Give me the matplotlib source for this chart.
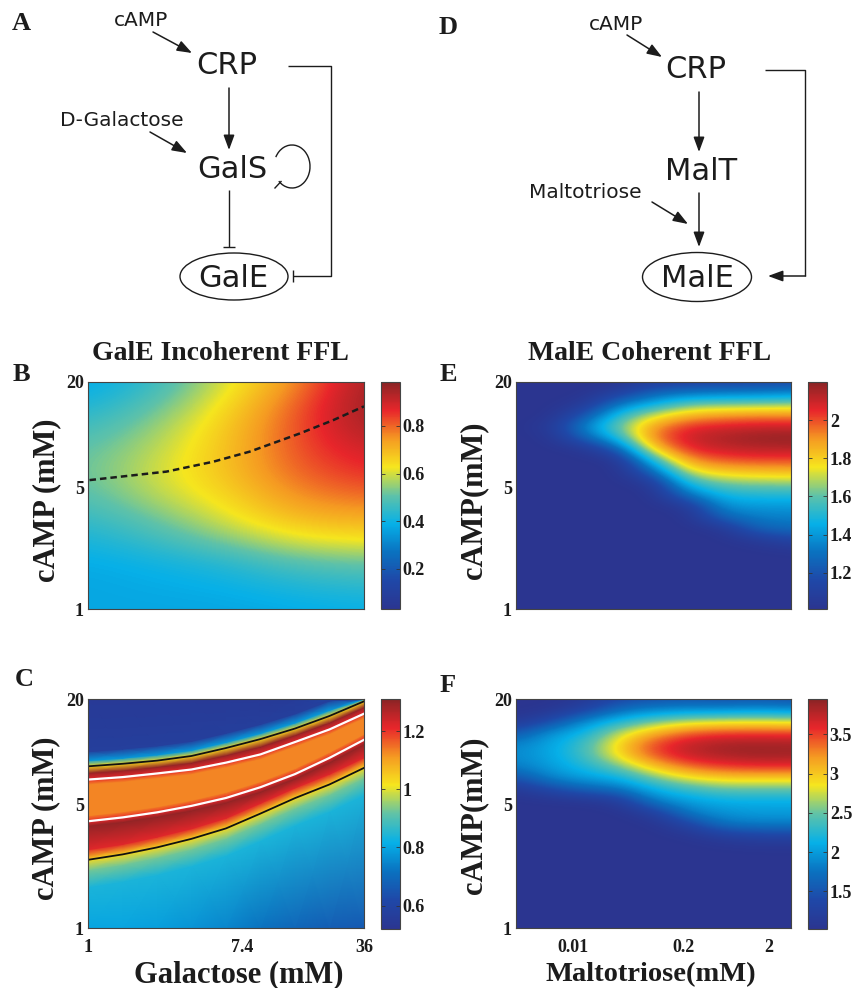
import numpy as np
import matplotlib
matplotlib.use("Agg")
import matplotlib.pyplot as plt
from matplotlib.colors import LinearSegmentedColormap
from matplotlib.patches import Ellipse, Arc

SERIF = "Liberation Serif"
INK = "#1c1c1c"

# ---------------- data (mM) ----------------
camp_range = [1, 20]
camp_ticks = [1, 5, 20]
galactose_range = [1, 36]
galactose_ticks = [1, 7.4, 36]
maltotriose_range = [0.0021, 3.7]
maltotriose_ticks = [0.01, 0.2, 2]

# B: GalE incoherent FFL, rows cAMP 20 -> 1, columns galactose 1 -> 36
gale_incoherent = [
    [0.37, 0.45, 0.60, 0.75, 0.96],
    [0.41, 0.50, 0.64, 0.80, 0.97],
    [0.46, 0.55, 0.67, 0.82, 0.95],
    [0.50, 0.58, 0.68, 0.82, 0.90],
    [0.51, 0.60, 0.68, 0.80, 0.86],
    [0.49, 0.58, 0.65, 0.76, 0.80],
    [0.45, 0.52, 0.61, 0.70, 0.72],
    [0.41, 0.46, 0.53, 0.61, 0.63],
    [0.38, 0.40, 0.43, 0.49, 0.51],
    [0.37, 0.38, 0.39, 0.42, 0.44],
    [0.37, 0.37, 0.37, 0.38, 0.39],
]
gale_incoherent_clim = [0.03, 0.985]
gale_incoherent_cticks = [0.2, 0.4, 0.6, 0.8]
dashed_galactose = [1.02, 2.77, 5.07, 8.17, 15.6, 24.1, 36.0]
dashed_camp = [5.48, 6.13, 6.98, 7.98, 10.13, 12.08, 14.5]

# C: band of GalE response, iso-rows given as cAMP at each galactose column
band_galactose = [1, 1.57, 2.45, 3.83, 6.0, 9.39, 14.7, 23.0, 36]
black_low = [2.44, 2.62, 2.87, 3.21, 3.68, 4.47, 5.47, 6.54, 8.12]
white_low = [4.04, 4.25, 4.54, 4.94, 5.48, 6.31, 7.49, 9.26, 11.73]
white_high = [6.97, 7.20, 7.55, 7.95, 8.70, 9.69, 11.39, 13.43, 16.5]
black_high = [8.29, 8.57, 8.93, 9.49, 10.53, 11.84, 13.59, 16.02, 19.4]
band_rows = [
    [1, 1, 1, 1, 1, 1, 1, 1, 1],
    [1.70, 1.83, 2.00, 2.24, 2.57, 3.12, 3.82, 4.57, 5.67],
    [2.13, 2.29, 2.51, 2.80, 3.22, 3.91, 4.78, 5.72, 7.09],
    black_low,
    [2.79, 2.99, 3.29, 3.67, 4.21, 5.12, 6.26, 7.49, 9.29],
    [3.80, 4.00, 4.28, 4.65, 5.16, 5.94, 7.05, 8.72, 11.05],
    white_low,
    [4.35, 4.58, 4.89, 5.32, 5.91, 6.80, 8.07, 9.98, 12.65],
    [6.56, 6.78, 7.12, 7.49, 8.19, 9.12, 10.73, 12.65, 15.55],
    white_high,
    [7.60, 7.85, 8.22, 8.68, 9.57, 10.71, 12.44, 14.67, 17.91],
    black_high,
    [8.93, 9.23, 9.63, 10.22, 11.35, 12.76, 14.64, 17.27, 20.0],
    [10.07, 10.41, 10.85, 11.52, 12.80, 14.38, 16.51, 19.56, 20.0],
    [20, 20, 20, 20, 20, 20, 20, 20, 20],
]
band_bottom = [0.80, 0.80, 0.79, 0.77, 0.75, 0.72, 0.69, 0.67, 0.66]
band_levels = [0.84, 0.93, 1.03, 1.22, 1.30, 1.21, 1.13, 1.13, 1.21, 1.30, 1.03, 0.78, 0.57]
band_top = [0.55, 0.55, 0.55, 0.55, 0.55, 0.55, 0.56, 0.60, 0.70]
band_clim = [0.52, 1.31]
band_cticks = [0.6, 0.8, 1.0, 1.2]
band_clabels = ["0.6", "0.8", "1", "1.2"]

# E: MalE coherent FFL, rows cAMP 20 -> 1, columns maltotriose low -> high
male_coherent = [
    [1.01, 1.01, 1.01, 1.01, 1.08, 1.10, 1.12, 1.13, 1.15],
    [1.01, 1.01, 1.01, 1.10, 1.25, 1.30, 1.32, 1.33, 1.35],
    [1.01, 1.01, 1.05, 1.32, 1.45, 1.60, 1.62, 1.63, 1.65],
    [1.01, 1.01, 1.20, 1.52, 1.72, 1.85, 1.90, 1.92, 1.92],
    [1.01, 1.05, 1.36, 1.62, 1.90, 2.05, 2.08, 2.10, 2.10],
    [1.01, 1.02, 1.25, 1.50, 1.95, 2.10, 2.15, 2.18, 2.19],
    [1.01, 1.01, 1.03, 1.22, 1.80, 2.05, 2.10, 2.12, 2.12],
    [1.01, 1.01, 1.01, 1.02, 1.50, 1.90, 1.98, 2.00, 2.00],
    [1.01, 1.01, 1.01, 1.01, 1.25, 1.72, 1.80, 1.82, 1.83],
    [1.01, 1.01, 1.01, 1.01, 1.05, 1.50, 1.62, 1.64, 1.65],
    [1.01, 1.01, 1.01, 1.01, 1.01, 1.30, 1.48, 1.50, 1.50],
    [1.01, 1.01, 1.01, 1.01, 1.01, 1.05, 1.38, 1.40, 1.40],
    [1.01, 1.01, 1.01, 1.01, 1.01, 1.01, 1.25, 1.33, 1.34],
    [1.01, 1.01, 1.01, 1.01, 1.01, 1.01, 1.03, 1.25, 1.28],
    [1.01, 1.01, 1.01, 1.01, 1.01, 1.01, 1.01, 1.05, 1.12],
    [1.01, 1.01, 1.01, 1.01, 1.01, 1.01, 1.01, 1.01, 1.02],
    [1.01, 1.01, 1.01, 1.01, 1.01, 1.01, 1.01, 1.01, 1.01],
    [1.01, 1.01, 1.01, 1.01, 1.01, 1.01, 1.01, 1.01, 1.01],
    [1.01, 1.01, 1.01, 1.01, 1.01, 1.01, 1.01, 1.01, 1.01],
    [1.01, 1.01, 1.01, 1.01, 1.01, 1.01, 1.01, 1.01, 1.01],
    [1.01, 1.01, 1.01, 1.01, 1.01, 1.01, 1.01, 1.01, 1.01],
]
male_coherent_clim = [1.01, 2.2]
male_coherent_cticks = [1.2, 1.4, 1.6, 1.8, 2.0]
male_coherent_clabels = ["1.2", "1.4", "1.6", "1.8", "2"]

# F: MalE response, second model
male_response = [
    [1.02, 1.02, 1.10, 1.35, 1.45, 1.50, 1.45, 1.50, 1.45],
    [1.02, 1.05, 1.30, 1.70, 1.85, 1.90, 1.90, 1.95, 1.90],
    [1.10, 1.40, 1.90, 2.20, 2.50, 2.70, 2.75, 2.78, 2.75],
    [1.50, 1.95, 2.15, 2.70, 3.10, 3.40, 3.50, 3.50, 3.50],
    [1.85, 2.05, 2.35, 2.95, 3.50, 3.75, 3.85, 3.87, 3.85],
    [1.90, 2.05, 2.35, 2.90, 3.45, 3.72, 3.82, 3.87, 3.85],
    [1.80, 2.00, 2.20, 2.50, 3.00, 3.35, 3.50, 3.55, 3.55],
    [1.45, 1.85, 2.00, 2.10, 2.50, 2.80, 2.95, 2.95, 2.95],
    [1.10, 1.35, 1.60, 1.70, 2.10, 2.30, 2.45, 2.45, 2.45],
    [1.02, 1.03, 1.05, 1.15, 1.80, 2.00, 2.10, 2.10, 2.10],
    [1.02, 1.02, 1.02, 1.02, 1.20, 1.80, 1.95, 2.00, 2.00],
    [1.02, 1.02, 1.02, 1.02, 1.03, 1.30, 1.75, 1.80, 1.80],
    [1.02, 1.02, 1.02, 1.02, 1.02, 1.05, 1.20, 1.30, 1.30],
    [1.02, 1.02, 1.02, 1.02, 1.02, 1.02, 1.03, 1.05, 1.05],
    [1.02, 1.02, 1.02, 1.02, 1.02, 1.02, 1.02, 1.02, 1.02],
    [1.02, 1.02, 1.02, 1.02, 1.02, 1.02, 1.02, 1.02, 1.02],
    [1.02, 1.02, 1.02, 1.02, 1.02, 1.02, 1.02, 1.02, 1.02],
    [1.02, 1.02, 1.02, 1.02, 1.02, 1.02, 1.02, 1.02, 1.02],
    [1.02, 1.02, 1.02, 1.02, 1.02, 1.02, 1.02, 1.02, 1.02],
    [1.02, 1.02, 1.02, 1.02, 1.02, 1.02, 1.02, 1.02, 1.02],
    [1.02, 1.02, 1.02, 1.02, 1.02, 1.02, 1.02, 1.02, 1.02],
]
male_response_clim = [1.02, 3.95]
male_response_cticks = [1.5, 2.0, 2.5, 3.0, 3.5]
male_response_clabels = ["1.5", "2", "2.5", "3", "3.5"]

# ---------------- style ----------------
plt.rcParams["font.family"] = "DejaVu Sans"
plt.rcParams["axes.linewidth"] = 0.8

jet_print = LinearSegmentedColormap.from_list("jet_print", [
    (0.000, "#2b3590"),
    (0.125, "#1f48a8"),
    (0.250, "#0a72c0"),
    (0.375, "#06b0e8"),
    (0.500, "#5fc2a8"),
    (0.625, "#f6e61e"),
    (0.750, "#f59a22"),
    (0.875, "#e8262b"),
    (1.000, "#8a2425"),
])

W, H = 852, 988
fig = plt.figure(figsize=(W / 100, H / 100), dpi=100)


def px_axes(left, top, right, bottom):
    return fig.add_axes([left / W, 1 - bottom / H, (right - left) / W, (bottom - top) / H])


# overlay axes in pixel units for diagrams and labels
dg = fig.add_axes([0, 0, 1, 1])
dg.set_xlim(0, W)
dg.set_ylim(H, 0)
dg.axis("off")


def arrow(p0, p1):
    dg.annotate("", xy=p1, xytext=p0,
                arrowprops=dict(arrowstyle="-|>,head_length=0.9,head_width=0.33",
                                color=INK, lw=1.1, shrinkA=0, shrinkB=0,
                                mutation_scale=10))


def line(xs, ys, lw=1.0):
    dg.plot(xs, ys, color=INK, lw=lw, solid_capstyle="butt")


def node(x, y, s, size=22):
    dg.text(x, y, s, fontsize=size, ha="center", va="center", color=INK)


# ---- diagram A ----
node(141, 20, "cAMP", 14.5)
arrow((153, 32), (192, 53))
node(227, 66, "CRP")
arrow((229, 88), (229, 150))
node(121.5, 120, "D-Galactose", 14.5)
arrow((150, 132), (187, 153))
node(232, 170, "GalS")
dg.add_patch(Arc((292, 166.5), 36, 43, theta1=-150, theta2=132, color=INK, lw=1.0))
line([274.5, 281.5], [188.5, 181.0])
line([229, 229], [190, 247])
line([223, 235], [247, 247])
dg.add_patch(Ellipse((234, 276.5), 108, 47, fill=False, ec=INK, lw=1.0))
node(233, 278, "GalE")
line([288, 331, 331, 293], [66, 66, 276, 276])
line([293, 293], [270, 282])

# ---- diagram D ----
node(616, 25, "cAMP", 14.5)
arrow((627, 35), (662, 57))
node(696, 69, "CRP")
arrow((699, 92), (699, 152))
node(701, 171, "MalT")
node(585, 192, "Maltotriose", 14.5)
arrow((652, 202), (688, 224))
arrow((699, 193), (699, 247))
dg.add_patch(Ellipse((697, 277), 109, 49, fill=False, ec=INK, lw=1.0))
node(697, 278, "MalE")
line([765, 805, 805], [70, 70, 276])
arrow((805.5, 276), (768, 276))

# ---- panel letters, titles, axis labels ----
for lx, ly, s in [(21, 24, "A"), (448, 27, "D"), (21.5, 374, "B"),
                  (448, 374, "E"), (24, 679, "C"), (448, 685, "F")]:
    dg.text(lx, ly, s, fontsize=19, fontweight="bold", family=SERIF,
            ha="center", va="center", color=INK)

dg.text(220, 353, "GalE Incoherent FFL", fontsize=20, fontweight="bold",
        family=SERIF, ha="center", va="center", color=INK)
dg.text(650, 353, "MalE Coherent FFL", fontsize=20, fontweight="bold",
        family=SERIF, ha="center", va="center", color=INK)

for lx, ly, s in [(47, 500, "cAMP (mM)"), (46, 818, "cAMP (mM)"),
                  (474, 500, "cAMP(mM)"), (474, 815, "cAMP(mM)")]:
    dg.text(lx, ly, s, fontsize=22, fontweight="bold", family=SERIF,
            rotation=90, ha="center", va="center", color=INK)
dg.text(239, 975, "Galactose (mM)", fontsize=22, fontweight="bold",
        family=SERIF, ha="center", va="center", color=INK)
dg.text(651, 975, "Maltotriose(mM)", fontsize=20.5, fontweight="bold",
        family=SERIF, ha="center", va="center", color=INK)

tick_font = dict(fontsize=13, fontweight="bold", family=SERIF, color=INK)


def sample_extent(xr, shape):
    x0, x1 = np.log10(xr)
    y0, y1 = np.log10(camp_range)
    dx = (x1 - x0) / (shape[1] - 1) / 2
    dy = (y1 - y0) / (shape[0] - 1) / 2
    return [x0 - dx, x1 + dx, y0 - dy, y1 + dy]


def style_axes(ax, xr, xticks=None):
    ax.set_xlim(np.log10(xr))
    ax.set_ylim(np.log10(camp_range))
    ax.set_yticks(np.log10(camp_ticks), [str(t) for t in camp_ticks], **tick_font)
    if xticks is None:
        ax.set_xticks([])
    else:
        ax.set_xticks(np.log10(xticks), [str(t) for t in xticks], **tick_font)
    ax.tick_params(direction="in", length=0, pad=3)
    ax.tick_params(axis="x", pad=8)
    for sp in ax.spines.values():
        sp.set_color("#444444")


def colorbar(im, box, ticks, labels):
    cax = px_axes(*box)
    cb = fig.colorbar(im, cax=cax)
    cb.outline.set_edgecolor("#444444")
    cb.outline.set_linewidth(0.8)
    cb.set_ticks(ticks)
    cax.set_yticklabels(labels, **tick_font)
    cax.tick_params(direction="in", length=3, width=0.6, pad=2, left=True,
                    right=True, colors="#333333", labelcolor=INK)


def heat(box, grid, xr, clim):
    ax = px_axes(*box)
    z = np.array(grid)
    im = ax.imshow(z, cmap=jet_print, vmin=clim[0], vmax=clim[1], origin="upper",
                   extent=sample_extent(xr, z.shape), aspect="auto",
                   interpolation="bicubic")
    return ax, im


# ---- B ----
axB, imB = heat((88, 382, 364, 609), gale_incoherent, galactose_range, gale_incoherent_clim)
axB.plot(np.log10(dashed_galactose), np.log10(dashed_camp), color=INK, lw=1.8,
         ls=(0, (2.6, 1.6)))
style_axes(axB, galactose_range)
colorbar(imB, (381, 382, 400, 609), gale_incoherent_cticks,
         [str(t) for t in gale_incoherent_cticks])

# ---- C ----
axC = px_axes(88, 699, 364, 928)
Y = np.log10(np.array(band_rows))
X = np.log10(np.broadcast_to(np.array(band_galactose), Y.shape))
Z = np.array([band_bottom] + [[v] * len(band_galactose) for v in band_levels] + [band_top])
imC = axC.pcolormesh(X, Y, Z, cmap=jet_print, vmin=band_clim[0], vmax=band_clim[1],
                     shading="gouraud")
gx = np.log10(band_galactose)
axC.plot(gx, np.log10(black_low), color="#111111", lw=1.3)
axC.plot(gx, np.log10(black_high), color="#111111", lw=1.3)
axC.plot(gx, np.log10(white_low), color="white", lw=1.6)
axC.plot(gx, np.log10(white_high), color="white", lw=1.6)
style_axes(axC, galactose_range, galactose_ticks)
colorbar(imC, (381, 699, 400, 929), band_cticks, band_clabels)

# ---- E ----
axE, imE = heat((516, 382, 791, 609), male_coherent, maltotriose_range, male_coherent_clim)
style_axes(axE, maltotriose_range)
colorbar(imE, (808, 382, 827, 609), male_coherent_cticks, male_coherent_clabels)

# ---- F ----
axF, imF = heat((516, 699, 791, 928), male_response, maltotriose_range, male_response_clim)
style_axes(axF, maltotriose_range, maltotriose_ticks)
colorbar(imF, (808, 699, 827, 929), male_response_cticks, male_response_clabels)

fig.savefig("out.png", dpi=100)
